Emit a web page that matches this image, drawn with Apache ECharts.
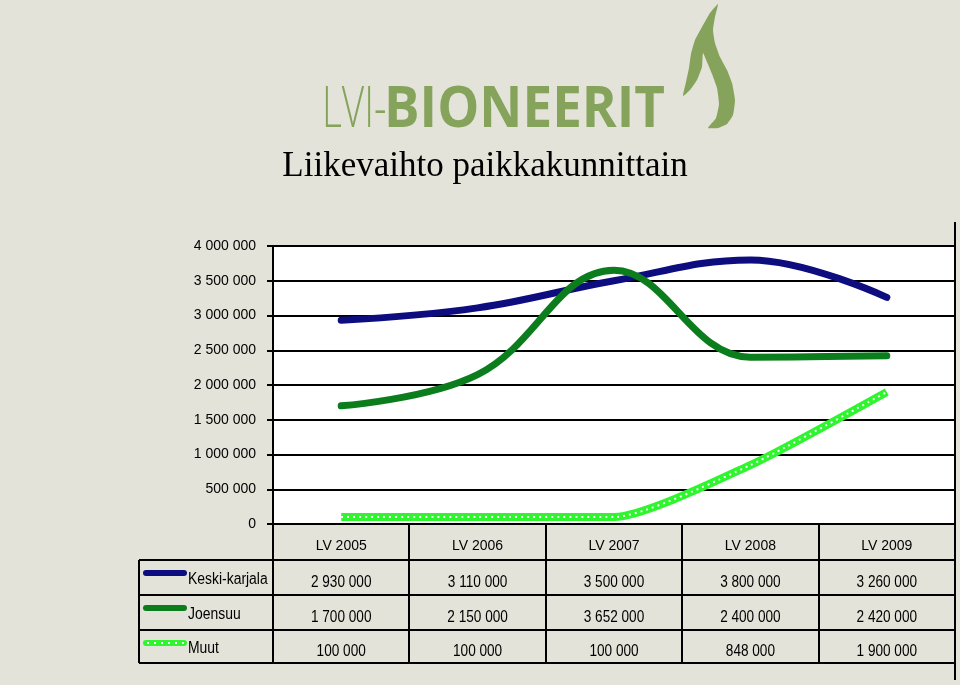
<!DOCTYPE html>
<html lang="fi">
<head>
<meta charset="UTF-8">
<title>Liikevaihto paikkakunnittain</title>
<style>
  html, body { margin: 0; padding: 0; background: #e3e3d9; }
  #main { width: 960px; height: 685px; }
</style>
<script src="https://cdn.jsdelivr.net/npm/echarts@6/dist/echarts.min.js"></script>
</head>
<body>
<div id="main"></div>
<script>
// tiedot
var years = ['LV 2005', 'LV 2006', 'LV 2007', 'LV 2008', 'LV 2009'];
var keskiKarjala = [2930000, 3110000, 3500000, 3800000, 3260000];
var joensuu = [1700000, 2150000, 3652000, 2400000, 2420000];
var muut = [100000, 100000, 100000, 848000, 1900000];
var seriesNames = ['Keski-karjala', 'Joensuu', 'Muut'];
var seriesColors = ['#0d0d80', '#0b7d1c', '#2ef52e'];

var FONT = "'Liberation Sans', Arial, sans-serif";
var GREEN = '#86a35c';

function fmt(v) {
    return String(v).replace(/\B(?=(\d{3})+(?!\d))/g, ' ');
}

var myChart = echarts.init(document.getElementById('main'));

var option = {
    backgroundColor: '#e3e3d9',
    animation: false,
    title: {
        text: 'Liikevaihto paikkakunnittain',
        left: 480, top: 144, textAlign: 'center',
        textStyle: { fontFamily: "'Liberation Serif', 'Times New Roman', serif", fontWeight: 'normal', fontSize: 35, color: '#000' }
    },
    grid: {
        left: 273, right: 5, top: 246, bottom: 161,
        show: true, backgroundColor: '#fff', borderWidth: 0
    },
    xAxis: {
        type: 'category',
        data: years,
        boundaryGap: true,
        axisLine: { lineStyle: { color: '#000', width: 2 } },
        axisTick: { show: false },
        axisLabel: { color: '#000', fontFamily: FONT, fontSize: 14, margin: 15 }
    },
    yAxis: {
        type: 'value',
        min: 0, max: 4000000, interval: 500000,
        axisLine: { show: true, lineStyle: { color: '#000', width: 2 } },
        axisTick: { show: true, length: 6, lineStyle: { color: '#000', width: 2 } },
        splitLine: { lineStyle: { color: '#000', width: 2 } },
        axisLabel: { color: '#000', fontFamily: FONT, fontSize: 14, margin: 17, formatter: fmt }
    },
    series: [
        { name: seriesNames[0], type: 'line', data: keskiKarjala, smooth: 0.4, showSymbol: false,
          lineStyle: { color: seriesColors[0], width: 7, cap: 'round' } },
        { name: seriesNames[1], type: 'line', data: joensuu, smooth: 0.4, showSymbol: false,
          lineStyle: { color: seriesColors[1], width: 7, cap: 'round' } },
        { name: seriesNames[2], type: 'line', data: muut, smooth: 0.2, showSymbol: false,
          lineStyle: { color: seriesColors[2], width: 8 } },
        { name: seriesNames[2] + '-pisteet', type: 'line', data: muut, smooth: 0.2, showSymbol: false,
          lineStyle: { color: '#fff', width: 2, type: [2, 4] } }
    ]
};
myChart.setOption(option);

// taulukko ja logo
var graphics = [];
var step = myChart.convertToPixel({ xAxisIndex: 0 }, years[1]) - myChart.convertToPixel({ xAxisIndex: 0 }, years[0]);
var x0 = myChart.convertToPixel({ xAxisIndex: 0 }, years[0]) - step / 2;
var yBottom = myChart.convertToPixel({ yAxisIndex: 0 }, 0);
var rowTops = [560, 595, 630, 663];
var tableLeft = 139;
var tableRight = x0 + step * years.length;
var rowsData = [keskiKarjala, joensuu, muut];

// pystyviivat
for (var i = 0; i <= years.length; i++) {
    var x = Math.round(x0 + step * i);
    graphics.push({ type: 'line', shape: { x1: x, y1: yBottom, x2: x, y2: i === years.length ? 680 : rowTops[3] },
        style: { stroke: '#000', lineWidth: 2 } });
}
// oikea reuna yläosa
graphics.push({ type: 'line', shape: { x1: Math.round(tableRight), y1: 222, x2: Math.round(tableRight), y2: yBottom },
    style: { stroke: '#000', lineWidth: 2 } });
// vaakaviivat
rowTops.forEach(function (y) {
    graphics.push({ type: 'line', shape: { x1: tableLeft, y1: y, x2: tableRight, y2: y }, style: { stroke: '#000', lineWidth: 2 } });
});
graphics.push({ type: 'line', shape: { x1: tableLeft, y1: rowTops[0], x2: tableLeft, y2: rowTops[3] }, style: { stroke: '#000', lineWidth: 2 } });

// rivit
rowsData.forEach(function (row, r) {
    var yTop = rowTops[r], yMid = (rowTops[r] + rowTops[r + 1]) / 2;
    graphics.push({ type: 'line', shape: { x1: 146, y1: yTop + 13, x2: 184, y2: yTop + 13 },
        style: { stroke: seriesColors[r], lineWidth: 6, lineCap: 'round' } });
    if (r === 2) {
        graphics.push({ type: 'line', shape: { x1: 147, y1: yTop + 13, x2: 184, y2: yTop + 13 },
            style: { stroke: '#fff', lineWidth: 2, lineDash: [2, 5] } });
    }
    graphics.push({ type: 'text', x: 188, y: yMid + 2, scaleX: 0.87,
        style: { text: seriesNames[r], font: '16px ' + FONT, fill: '#000', textVerticalAlign: 'middle' } });
    row.forEach(function (v, c) {
        var cx = myChart.convertToPixel({ xAxisIndex: 0 }, years[c]);
        graphics.push({ type: 'text', x: cx, y: yMid + 5, scaleX: 0.85,
            style: { text: fmt(v), font: '16px ' + FONT, fill: '#000', textAlign: 'center', textVerticalAlign: 'middle' } });
    });
});

// logo
graphics.push({ type: 'text', x: 322, y: 139, scaleX: 0.68,
    style: { text: 'LVI-', font: '300 57px "Open Sans", sans-serif', fill: GREEN, textVerticalAlign: 'bottom' } });
graphics.push({ type: 'text', x: 384, y: 139, scaleX: 0.93,
    style: { text: 'BIONEERIT', font: 'bold 57px "Open Sans", sans-serif', fill: GREEN, textVerticalAlign: 'bottom' } });
graphics.push({ type: 'polygon', shape: {
        points: [[718, 4], [715, 17], [713, 30], [715, 43], [720, 57], [727, 70], [732, 83], [735, 100],
                 [733, 115], [727, 124], [718, 128], [708, 128], [716, 118], [719, 104], [717, 88],
                 [712, 74], [707, 62], [703, 53], [702, 67], [697, 80], [690, 90], [683, 96],
                 [686, 82], [689, 68], [691, 54], [695, 40], [702, 27], [710, 13]],
        smooth: 0.15
    }, style: { fill: GREEN } });

myChart.setOption({ graphic: graphics });
</script>
</body>
</html>
